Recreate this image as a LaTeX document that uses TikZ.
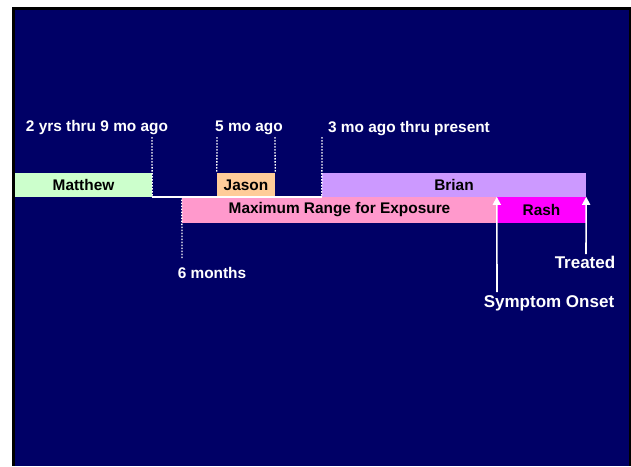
\documentclass[tikz,border=0pt]{standalone}
\usepackage{fontspec}
\setmainfont{Liberation Sans}
\usetikzlibrary{arrows.meta}
\definecolor{navy}{HTML}{000066}
\definecolor{mgreen}{HTML}{CCFFCC}
\definecolor{jorange}{HTML}{FFCC99}
\definecolor{bpurple}{HTML}{CC99FF}
\definecolor{rpink}{HTML}{FF99CC}
\definecolor{rmag}{HTML}{FF00FF}
\begin{document}
\begin{tikzpicture}[x=1pt,y=-1pt,
  lbl/.style={font=\fontsize{15.4}{18}\selectfont\bfseries, inner sep=0pt},
  wlbl/.style={lbl, text=white},
  biglbl/.style={wlbl, font=\fontsize{17}{20}\selectfont\bfseries},
  bar/.style={lbl, text=black, minimum width=#1, anchor=center},
  guide/.style={white, line width=1.3pt, dash pattern=on 1.5pt off 1.5pt},
  uparrow/.style={white, line width=1.6pt, -{Triangle[width=8pt,length=8pt]}}]
\useasboundingbox (0,0) rectangle (631,466);
\fill[white] (0,0) rectangle (631,466);
\fill[black] (12,7) rectangle (631,466);
\fill[navy] (15,10) rectangle (629,466);
% bars
\node[bar=137pt, fill=mgreen, minimum height=24pt] (matthew) at (83.5,185) {Matthew};
\node[bar=58pt, fill=jorange, minimum height=24pt] (jason) at (246,185) {Jason};
\node[bar=264pt, fill=bpurple, minimum height=24pt] (brian) at (454,185) {Brian};
\node[bar=315pt, fill=rpink, minimum height=26pt] (range) at (339.5,210) {Maximum Range for Exposure};
\node[bar=89pt, fill=rmag, minimum height=26pt] (rash) at (541.5,210) {Rash};
% labels
\node[wlbl] (l2yrs) at (97,128) {2 yrs thru 9 mo ago};
\node[wlbl] (l5mo) at (249,128) {5 mo ago};
\node[wlbl] (l3mo) at (409,129) {3 mo ago thru present};
\node[wlbl] (l6m) at (212,273) {6 months};
\node[biglbl] (treated) at (585,262) {Treated};
\node[biglbl] (onset) at (549,303) {Symptom Onset};
% guide coordinates
\coordinate (gm) at (152,137);
\coordinate (gj1) at (217,137);
\coordinate (gj2) at (275,137);
\coordinate (gb) at (322,137);
\coordinate (g6) at (182,258);
\coordinate (onsetbase) at (497,292);
\coordinate (treatedbase) at (586,254);
% base line
\draw[white, line width=1.5pt] (matthew.south east) -- (brian.south west);
% dotted guides
\draw[guide] (gm) -- (matthew.south east);
\draw[guide] (gj1) -- (jason.north west);
\draw[guide] (gj2) -- (jason.north east);
\draw[guide] (gb) -- (brian.south west);
\draw[guide] (g6) -- (range.north west);
% arrows
\draw[uparrow] (onsetbase) -- (rash.north west);
\draw[uparrow] (treatedbase) -- (rash.north east);
\end{tikzpicture}
\end{document}
